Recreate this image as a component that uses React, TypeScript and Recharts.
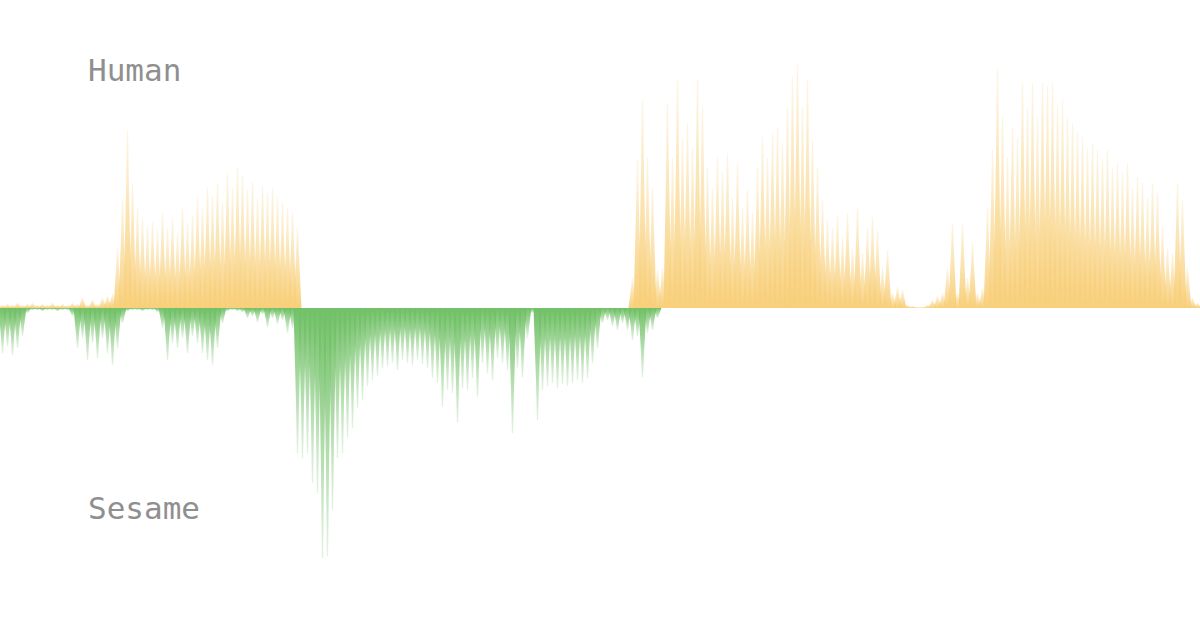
import { BarChart, Bar, XAxis, YAxis } from 'recharts';

// Each value is the height of one 5px-wide slice of the waveform, in chart units
// (positive = Human above the baseline, negative = Sesame below it).
const humanLevel = [
  3, 4, 3, 5, 3, 4, 5, 3, 4, 3, 5, 3, 4, 3, 5, 4,
  10, 3, 8, 4, 10, 12, 14, 60, 110, 178, 125, 100, 90, 82,
  86, 78, 95, 80, 90, 75, 100, 85, 92, 110, 100, 120, 112, 125,
  105, 135, 120, 140, 132, 118, 126, 110, 122, 115, 120, 110, 105, 100,
  95, 80,
  0, 0, 0, 0, 0, 0, 0, 0, 0, 0, 0, 0, 0, 0, 0, 0, 0, 0, 0, 0,
  0, 0, 0, 0, 0, 0, 0, 0, 0, 0, 0, 0, 0, 0, 0, 0, 0, 0, 0, 0,
  0, 0, 0, 0, 0, 0, 0, 0, 0, 0, 0, 0, 0, 0, 0, 0, 0, 0, 0, 0,
  0, 0, 0, 0, 0, 0,
  30, 148, 208, 150, 120, 38, 40, 205, 150, 228, 170, 185, 160, 228,
  200, 140, 120, 150, 135, 155, 110, 145, 100, 118, 95, 140, 171, 150,
  175, 181, 165, 200, 231, 245, 200, 228, 168, 140, 108, 88, 80, 92,
  70, 95, 60, 101, 55, 80, 91, 78, 40, 58, 15, 21, 18, 3, 2, 1, 1, 3,
  8, 12, 15, 40, 85, 15, 85, 30, 65, 15, 20, 100, 158, 238, 191, 150,
  181, 170, 225, 200, 225, 190, 225, 222, 225, 200, 208, 191, 185, 175,
  171, 160, 165, 158, 150, 158, 140, 145, 135, 145, 120, 131, 125, 110,
  125, 115, 81, 60, 55, 125, 108, 40, 10, 5,
];

const sesameLevel = [
  -45, -38, -47, -40, -28, -5, -2, -2, -3, -2, -2, -3, -2, -2, -8, -40,
  -30, -52, -35, -50, -30, -45, -57, -40, -15, -3, -2, -2, -3, -2,
  -2, -4, -20, -52, -35, -40, -30, -45, -28, -35, -45, -52, -57, -40,
  -15, -3, -2, -3, -4, -10, -8, -14, -6, -19, -10, -16, -12, -25,
  -20, -145, -150, -145, -175, -185, -252, -248, -202, -150, -145, -130,
  -120, -100, -92, -78, -72, -68, -60, -58, -55, -62, -52, -55, -57, -52,
  -56, -60, -70, -75, -99, -82, -85, -115, -80, -82, -70, -89, -55, -65,
  -72, -50, -55, -62, -125, -60, -69, -30, -5, -112, -82, -78, -75, -80,
  -76, -78, -75, -72, -75, -70, -55, -40, -15, -12, -18, -22, -15, -22,
  -32, -28, -69, -25, -22, -10,
  0, 0, 0, 0, 0, 0, 0, 0, 0, 0, 0, 0, 0, 0, 0, 0, 0, 0, 0, 0,
  0, 0, 0, 0, 0, 0, 0, 0, 0, 0, 0, 0, 0, 0, 0, 0, 0, 0, 0, 0,
  0, 0, 0, 0, 0, 0, 0, 0, 0, 0, 0, 0, 0, 0, 0, 0, 0, 0, 0, 0,
  0, 0, 0, 0, 0, 0, 0, 0, 0, 0, 0, 0, 0, 0, 0, 0, 0, 0, 0, 0,
  0, 0, 0, 0, 0, 0, 0, 0, 0, 0, 0, 0, 0, 0, 0, 0, 0, 0, 0, 0,
  0, 0, 0, 0, 0, 0, 0, 0,
];

const speakers = ['Human', 'Sesame'];

const YELLOW = '#f8d07c';
const GREEN = '#72c168';

const data = humanLevel.map((h, i) => ({
  slice: i,
  human: h,
  sesame: sesameLevel[i] ?? 0,
}));

// draws a bar as a spike: wide at the baseline, a thin needle at the tip
function spike(up: boolean) {
  return (props: any) => {
    const { x, y, width, height, fill } = props;
    if (!height || Math.abs(height) < 0.5) return <g />;
    const top = Math.min(y, y + height);
    const bottom = Math.max(y, y + height);
    const mid = x + width / 2;
    const l = x - 1.5;
    const r = x + width + 1.5;
    const d = up
      ? `M${l},${bottom} L${mid - 1.5},${top + (bottom - top) * 0.35} L${mid - 0.6},${top} L${mid + 0.6},${top} L${mid + 1.5},${top + (bottom - top) * 0.35} L${r},${bottom} Z`
      : `M${l},${top} L${mid - 1.5},${bottom - (bottom - top) * 0.35} L${mid - 0.6},${bottom} L${mid + 0.6},${bottom} L${mid + 1.5},${bottom - (bottom - top) * 0.35} L${r},${top} Z`;
    return <path d={d} fill={fill} />;
  };
}

export default function App() {
  return (
    <div
      style={{
        position: 'absolute',
        left: 0,
        top: 0,
        width: 1200,
        height: 630,
        background: '#fff',
      }}
    >
      <BarChart
        width={1200}
        height={630}
        data={data}
        margin={{ top: 58, right: 0, bottom: 72, left: 0 }}
        barCategoryGap={0}
        stackOffset="sign"
      >
        <defs>
          <linearGradient id="humanFade" x1="0" y1="0" x2="0" y2="1">
            <stop offset="0%" stopColor={YELLOW} stopOpacity={0.2} />
            <stop offset="55%" stopColor={YELLOW} stopOpacity={0.65} />
            <stop offset="100%" stopColor={YELLOW} stopOpacity={1} />
          </linearGradient>
          <linearGradient id="sesameFade" x1="0" y1="0" x2="0" y2="1">
            <stop offset="0%" stopColor={GREEN} stopOpacity={1} />
            <stop offset="45%" stopColor={GREEN} stopOpacity={0.65} />
            <stop offset="100%" stopColor={GREEN} stopOpacity={0.2} />
          </linearGradient>
        </defs>
        <XAxis dataKey="slice" hide />
        <YAxis hide domain={[-250, 250]} allowDataOverflow />
        <Bar
          dataKey="human"
          stackId="wave"
          fill="url(#humanFade)"
          shape={spike(true)}
          isAnimationActive={false}
        />
        <Bar
          dataKey="sesame"
          stackId="wave"
          fill="url(#sesameFade)"
          shape={spike(false)}
          isAnimationActive={false}
        />
      </BarChart>
      <svg
        width={1200}
        height={630}
        style={{ position: 'absolute', left: 0, top: 0, pointerEvents: 'none' }}
      >
        <text
          x={88}
          y={81}
          fill="#8f8f8f"
          fontFamily="'DejaVu Sans Mono', monospace"
          fontSize={31}
        >
          {speakers[0]}
        </text>
        <text
          x={88}
          y={519}
          fill="#8f8f8f"
          fontFamily="'DejaVu Sans Mono', monospace"
          fontSize={31}
        >
          {speakers[1]}
        </text>
      </svg>
    </div>
  );
}
